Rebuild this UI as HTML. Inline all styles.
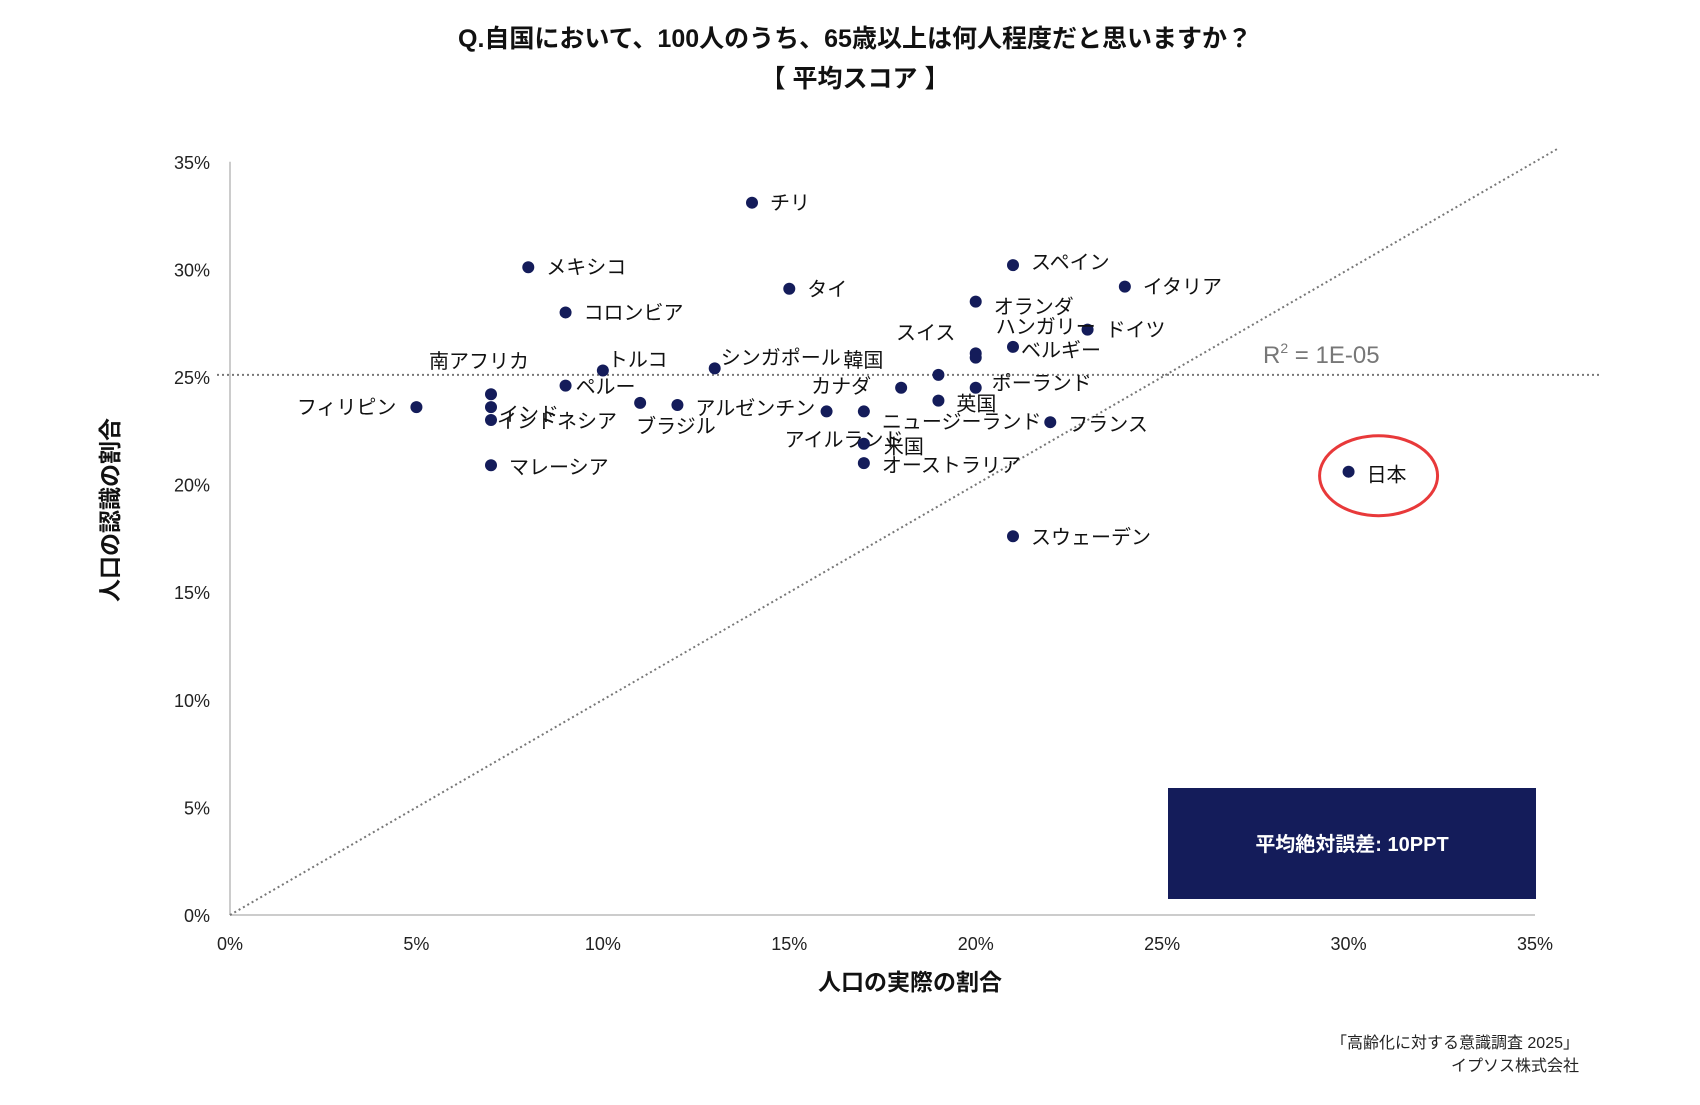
<!DOCTYPE html>
<html><head><meta charset="utf-8"><style>
body{margin:0;background:#fff}
svg text{font-family:"Liberation Sans","Noto Sans CJK JP",sans-serif}
</style></head><body>
<svg id="chart" width="1700" height="1100" viewBox="0 0 1700 1100">
<text x="855" y="47" text-anchor="middle" font-size="25" font-weight="bold" fill="#111">Q.自国において、100人のうち、65歳以上は何人程度だと思いますか？</text>
<text x="855" y="87" text-anchor="middle" font-size="25" font-weight="bold" fill="#111">【 平均スコア 】</text>
<g id="axes"></g>
<g id="marks"></g>
<text x="1263" y="363" font-size="24" fill="#777">R<tspan font-size="14" dy="-10">2</tspan><tspan dy="10"> = 1E-05</tspan></text>
<rect x="1168" y="788" width="368" height="111" fill="#141c5a"/>
<text x="1352" y="851" text-anchor="middle" font-size="20" font-weight="bold" fill="#fff">平均絶対誤差: 10PPT</text>
<text x="910" y="990" text-anchor="middle" font-size="23" font-weight="bold" fill="#111">人口の実際の割合</text>
<text transform="translate(118,510) rotate(-90)" text-anchor="middle" font-size="23" font-weight="bold" fill="#111">人口の認識の割合</text>
<text x="1579" y="1048" text-anchor="end" font-size="16" fill="#222">「高齢化に対する意識調査 2025」</text>
<text x="1579" y="1071" text-anchor="end" font-size="16" fill="#222">イプソス株式会社</text>
</svg>
<script>
const countries=["チリ","メキシコ","タイ","コロンビア","スペイン","イタリア","オランダ","ドイツ","ハンガリー","ベルギー","スイス","ポーランド","英国","韓国","カナダ","アイルランド","ニュージーランド","米国","オーストラリア","フランス","スウェーデン","日本","ブラジル","アルゼンチン","シンガポール","トルコ","ペルー","南アフリカ","インド","インドネシア","フィリピン","マレーシア"];
const actualPct=[14,8,15,9,21,24,20,23,20,21,20,20,19,19,18,16,17,17,17,22,21,30,11,12,13,10,9,7,7,7,5,7];
const perceivedPct=[33.1,30.1,29.1,28.0,30.2,29.2,28.5,27.2,26.1,26.4,25.9,24.5,23.9,25.1,24.5,23.4,23.4,21.9,21.0,22.9,17.6,20.6,23.8,23.7,25.4,25.3,24.6,24.2,23.6,23.0,23.6,20.9];
const xTicks=[0,5,10,15,20,25,30,35];
const yTicks=[0,5,10,15,20,25,30,35];
const trendY=25.1;
// label offsets (layout only)
const lab={"チリ":[18,7,"start"],"メキシコ":[18,7,"start"],"タイ":[18,7,"start"],"コロンビア":[18,7,"start"],"スペイン":[18,4,"start"],"イタリア":[18,7,"start"],"オランダ":[18,12,"start"],"ドイツ":[18,7,"start"],"ハンガリー":[20,-20,"start"],"ベルギー":[8,10,"start"],"スイス":[-50,-18,"middle"],"ポーランド":[16,2,"start"],"英国":[18,10,"start"],"韓国":[-75,-8,"middle"],"カナダ":[-60,5,"middle"],"アイルランド":[-42,35,"start"],"ニュージーランド":[18,17,"start"],"米国":[20,10,"start"],"オーストラリア":[18,9,"start"],"フランス":[18,9,"start"],"スウェーデン":[18,8,"start"],"日本":[18,10,"start"],"ブラジル":[-4,30,"start"],"アルゼンチン":[18,10,"start"],"シンガポール":[6,-4,"start"],"トルコ":[5,-4,"start"],"ペルー":[10,8,"start"],"南アフリカ":[-12,-26,"middle"],"インド":[8,14,"start"],"インドネシア":[6,8,"start"],"フィリピン":[-20,7,"end"],"マレーシア":[18,9,"start"]};
const X0=230,X1=1535,Y0=915,PY=21.52;
const sx=v=>X0+(X1-X0)*v/35, sy=v=>Y0-PY*v;
const NS="http://www.w3.org/2000/svg";
const axes=document.getElementById('axes'),marks=document.getElementById('marks');
function mk(tag,attrs,parent){const e=document.createElementNS(NS,tag);for(const k in attrs)e.setAttribute(k,attrs[k]);parent.appendChild(e);return e;}
let e=mk('line',{x1:X0,y1:sy(0),x2:X0,y2:sy(35),stroke:"#ccc","stroke-width":2},axes);


e=mk('line',{x1:X0,y1:sy(0),x2:X1,y2:sy(0),stroke:"#ccc","stroke-width":2},axes);


yTicks.forEach(t=>{const el=mk('text',{x:210,y:sy(t)+7,"text-anchor":"end","font-size":18,fill:"#222"},axes);el.textContent=t+"%";

});
xTicks.forEach(t=>{const el=mk('text',{x:sx(t),y:950,"text-anchor":"middle","font-size":18,fill:"#222"},axes);el.textContent=t+"%";

});
e=mk('line',{x1:217,y1:sy(trendY),x2:1601,y2:sy(trendY),stroke:"#777","stroke-width":2,"stroke-dasharray":"2 3"},axes);


e=mk('line',{x1:sx(0),y1:sy(0),x2:sx(35.6),y2:sy(35.6),stroke:"#777","stroke-width":2,"stroke-dasharray":"2 3"},axes);


countries.forEach((c,i)=>{const cx=sx(actualPct[i]),cy=sy(perceivedPct[i]);
const d=mk('circle',{cx:cx,cy:cy,r:6,fill:"#141c5a"},marks);


const o=lab[c]||[18,7,"start"];
const t=mk('text',{x:cx+o[0],y:cy+o[1],"text-anchor":o[2],"font-size":20,fill:"#111"},marks);t.textContent=c;


if(c==="日本"){const r=mk('ellipse',{cx:cx+30,cy:cy+4,rx:59,ry:40,fill:"none",stroke:"#e8393a","stroke-width":3},marks);

}
});
</script>
</body></html>
